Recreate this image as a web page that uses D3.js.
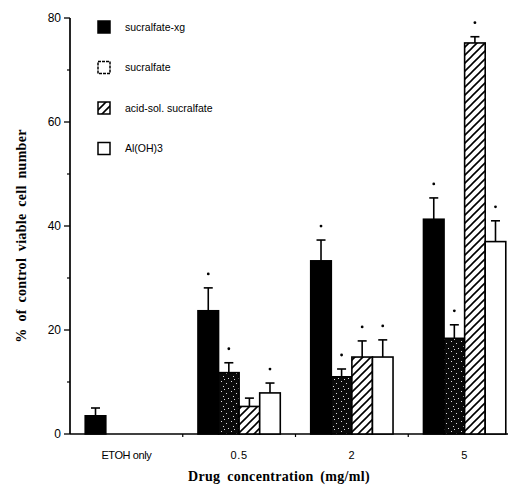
<!DOCTYPE html>
<html>
<head>
<meta charset="utf-8">
<script src="https://cdn.jsdelivr.net/npm/d3@7"></script>
<style>
  html, body { margin: 0; padding: 0; background: #fff; }
  svg { display: block; }
</style>
</head>
<body>
<svg id="chart" width="508" height="490"></svg>
<script>
// Groups along the x axis
const groups = ["ETOH only", "0.5", "2", "5"];

// Series names (legend order)
const seriesNames = ["sucralfate-xg", "sucralfate", "acid-sol. sucralfate", "Al(OH)3"];

// Mean % of control viable cell number, per group (null = not tested)
const sucralfateXg   = [3.5, 23.7, 33.3, 41.3];
const sucralfate     = [null, 11.8, 11.0, 18.4];
const acidSolSucral  = [null, 5.3, 14.8, 75.2];
const alOH3          = [null, 7.9, 14.8, 37.0];

// Upper error (SE) for each bar
const errXg      = [1.5, 4.4, 4.0, 4.1];
const errSucral  = [null, 1.9, 1.5, 2.6];
const errAcid    = [null, 1.6, 3.1, 1.2];
const errAlOH3   = [null, 1.9, 3.3, 4.0];

// Significance marks (1 = asterisk above the bar)
const sigXg     = [0, 1, 1, 1];
const sigSucral = [0, 1, 1, 1];
const sigAcid   = [0, 0, 1, 1];
const sigAlOH3  = [0, 1, 1, 1];

// Axis ticks
const majorTicks = [0, 20, 40, 60, 80];
const minorTicks = [10, 30, 50, 70];

const values = [sucralfateXg, sucralfate, acidSolSucral, alOH3];
const errors = [errXg, errSucral, errAcid, errAlOH3];
const sigs   = [sigXg, sigSucral, sigAcid, sigAlOH3];

const svg = d3.select("#chart");

const plotLeft = 70, plotRight = 521, plotTop = 18, plotBottom = 434;

const x0 = d3.scaleBand().domain(groups).range([plotLeft, plotRight])
  .paddingInner(0.27).paddingOuter(0.135);
const x1 = d3.scaleBand().domain(d3.range(seriesNames.length)).range([0, x0.bandwidth()]);
const y = d3.scaleLinear().domain([0, 80]).range([plotBottom, plotTop]);

// Fill patterns: dark stipple and diagonal hatch
const defs = svg.append("defs");
const stip = defs.append("pattern").attr("id", "stipple")
  .attr("patternUnits", "userSpaceOnUse").attr("width", 10).attr("height", 10);
stip.append("rect").attr("width", 10).attr("height", 10).attr("fill", "#0a0a0a");
[[1,1],[6,3],[3,6],[8,8],[4,9]].forEach(([a,b]) => {
  stip.append("rect").attr("x", a).attr("y", b).attr("width", 1).attr("height", 1).attr("fill", "#ddd");
});
const hatch = defs.append("pattern").attr("id", "hatch")
  .attr("patternUnits", "userSpaceOnUse").attr("width", 8).attr("height", 8);
hatch.append("rect").attr("width", 8).attr("height", 8).attr("fill", "#fff");
hatch.append("path").attr("d", "M-1,1 l2,-2 M0,8 l8,-8 M7,9 l2,-2")
  .attr("stroke", "#000").attr("stroke-width", 1.6);

const fills = ["#000", "url(#stipple)", "url(#hatch)", "#fff"];

// Y axis
const yAxis = svg.append("g").attr("transform", `translate(${plotLeft},0)`);
yAxis.append("line").attr("x1", 0).attr("x2", 0).attr("y1", y(80)).attr("y2", y(0))
  .attr("stroke", "#000").attr("stroke-width", 1.7);
yAxis.selectAll(".maj").data(majorTicks).join("line").attr("class", "maj")
  .attr("x1", -6).attr("x2", 0).attr("y1", d => y(d)).attr("y2", d => y(d))
  .attr("stroke", "#000").attr("stroke-width", 1.3);
yAxis.selectAll(".mn").data(minorTicks).join("line").attr("class", "mn")
  .attr("x1", -3).attr("x2", 0).attr("y1", d => y(d)).attr("y2", d => y(d))
  .attr("stroke", "#000").attr("stroke-width", 1.2);
yAxis.selectAll("text").data(majorTicks).join("text")
  .attr("x", -9).attr("y", d => y(d)).attr("dy", "0.35em")
  .attr("text-anchor", "end")
  .attr("font-family", "Liberation Sans, Arial, sans-serif").attr("font-size", 12)
  .text(d => d);

// X axis baseline and separating ticks
svg.append("line").attr("x1", plotLeft).attr("x2", 508).attr("y1", plotBottom).attr("y2", plotBottom)
  .attr("stroke", "#000").attr("stroke-width", 1.7);
const seps = groups.slice(1).map(g => x0(g) - x0.step() * x0.paddingInner() / 2);
svg.selectAll(".sep").data(seps).join("line").attr("class", "sep")
  .attr("x1", d => d).attr("x2", d => d).attr("y1", plotBottom).attr("y2", plotBottom + 3)
  .attr("stroke", "#000").attr("stroke-width", 1.2);
svg.selectAll(".xl").data(groups).join("text").attr("class", "xl")
  .attr("x", g => x0(g) + x0.bandwidth() / 2).attr("y", 459)
  .attr("text-anchor", "middle")
  .attr("font-family", "Liberation Sans, Arial, sans-serif").attr("font-size", 11)
  .attr("letter-spacing", g => g === "ETOH only" ? -0.4 : 0.6)
  .text(g => g);

// Bars
const bars = [];
groups.forEach((g, gi) => {
  values.forEach((vals, si) => {
    if (vals[gi] == null) return;
    bars.push({ g, si, v: vals[gi], e: errors[si][gi], s: sigs[si][gi] });
  });
});

const bg = svg.append("g");
bg.selectAll("rect").data(bars).join("rect")
  .attr("x", d => x0(d.g) + x1(d.si))
  .attr("y", d => y(d.v))
  .attr("width", x1.bandwidth())
  .attr("height", d => y(0) - y(d.v))
  .attr("fill", d => fills[d.si])
  .attr("stroke", "#000").attr("stroke-width", 1.6);

// Error bars (upper only)
const eg = svg.append("g").attr("stroke", "#000").attr("stroke-width", 1.6);
bars.forEach(d => {
  const cx = x0(d.g) + x1(d.si) + x1.bandwidth() / 2;
  eg.append("line").attr("x1", cx).attr("x2", cx).attr("y1", y(d.v)).attr("y2", y(d.v + d.e));
  eg.append("line").attr("x1", cx - 4.5).attr("x2", cx + 4.5).attr("y1", y(d.v + d.e)).attr("y2", y(d.v + d.e));
});

// Significance marks
svg.append("g").selectAll("circle").data(bars.filter(d => d.s)).join("circle")
  .attr("cx", d => x0(d.g) + x1(d.si) + x1.bandwidth() / 2)
  .attr("cy", d => y(d.v + d.e) - 14)
  .attr("r", 1.4).attr("fill", "#000");

// Legend
const lg = svg.append("g");
seriesNames.forEach((name, i) => {
  const cy = 27 + i * 40.5;
  lg.append("rect").attr("x", 98).attr("y", cy - 6).attr("width", 12).attr("height", 12)
    .attr("fill", i === 0 ? "#000" : (i === 2 ? "url(#hatch)" : "#fff"))
    .attr("stroke", "#000").attr("stroke-width", 1.5)
    .attr("stroke-dasharray", i === 1 ? "3,1" : null);
  lg.append("text").attr("x", 125).attr("y", cy).attr("dy", "0.35em")
    .attr("font-family", "Liberation Sans, Arial, sans-serif").attr("font-size", 10.5)
    .text(name);
});

// Axis titles
svg.append("text")
  .attr("transform", `translate(26,${(plotTop + plotBottom) / 2 + 10}) rotate(-90)`)
  .attr("text-anchor", "middle")
  .attr("font-family", "Liberation Serif, Times New Roman, serif")
  .attr("font-weight", "bold").attr("font-size", 14)
  .attr("word-spacing", 3).attr("letter-spacing", 0.3)
  .text("% of control viable cell number");

svg.append("text")
  .attr("x", 279).attr("y", 481)
  .attr("text-anchor", "middle")
  .attr("font-family", "Liberation Serif, Times New Roman, serif")
  .attr("font-weight", "bold").attr("font-size", 14)
  .attr("word-spacing", 3).attr("letter-spacing", 0.3)
  .text("Drug concentration (mg/ml)");
</script>
</body>
</html>
